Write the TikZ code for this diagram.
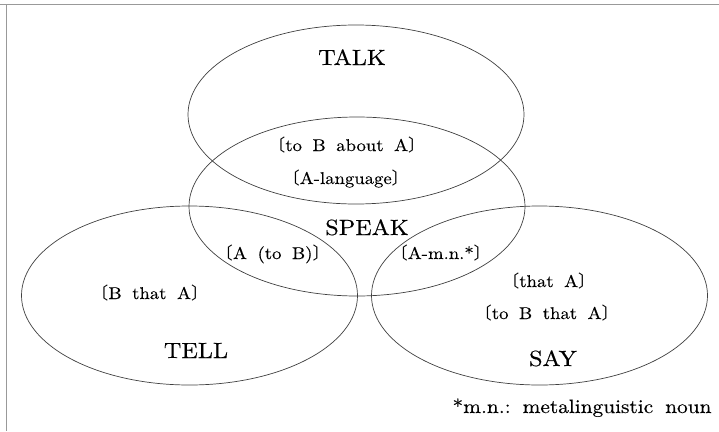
\documentclass[tikz,border=0pt]{standalone}
\usepackage{fontspec}
\setmainfont{lmroman10-regular.otf}[FakeStretch=1.1,FakeBold=0.3]
\newfontfamily\cjkfont{Noto Sans CJK SC}
\usetikzlibrary{shapes.geometric}
\newcommand{\lbk}{{\cjkfont\hspace{-0.5em}〔}}
\newcommand{\rbk}{{\cjkfont 〕\hspace{-0.97em}}}
\newcommand{\wsp}{\hspace{0.62em}}
\tikzset{
  venn/.style={ellipse, draw=black!75, line width=0.7pt, inner sep=0pt,
    minimum width=336pt, minimum height=179pt},
  big/.style={anchor=base, inner sep=0pt, font=\fontsize{22}{26}\selectfont},
  small/.style={anchor=base, inner sep=0pt, font=\fontsize{17}{20}\selectfont},
  note/.style={anchor=base, inner sep=0pt, font=\fontsize{19.4}{23}\selectfont},
  frameline/.style={draw=black!40, line width=1.2pt}
}
\begin{document}
\begin{tikzpicture}[x=1pt, y=-1pt]
\useasboundingbox (0,0) rectangle (719,431);
\coordinate (tl) at (0,4.5);
\coordinate (tr) at (719,4.5);
\coordinate (lt) at (6.5,4.5);
\coordinate (lb) at (6.5,431);
\draw[frameline] (tl) -- (tr);
\draw[frameline, line width=1pt] (lt) -- (lb);

\node[venn] (talk) at (356,114.5) {};
\node[venn] (speak) at (357,206.5) {};
\node[venn] (tell) at (189.5,295.5) {};
\node[venn] (say) at (539.5,295.5) {};

\node[big] (talklbl) at (352,65) {TALK};
\node[small] (tob) at (351,151) {\lbk to\wsp B\wsp about\wsp A\rbk};
\node[small] (alang) at (350,184) {\lbk A-language\rbk};
\node[big] (speaklbl) at (367,235) {SPEAK};
\node[small] (atob) at (277,259) {\lbk A\wsp (to\wsp B)\rbk};
\node[small] (bthat) at (154,299) {\lbk B\wsp that\wsp A\rbk};
\node[big] (telllbl) at (196,358) {TELL};
\node[small] (amn) at (445,259) {\lbk A-m.n.*\rbk};
\node[small] (thata) at (553,287) {\lbk that\wsp A\rbk};
\node[small] (tobthat) at (551,319) {\lbk to\wsp B\wsp that\wsp A\rbk};
\node[big] (saylbl) at (553,366) {SAY};
\node[note] (foot) at (582,413) {*m.n.:\wsp metalinguistic\wsp noun};
\end{tikzpicture}
\end{document}
